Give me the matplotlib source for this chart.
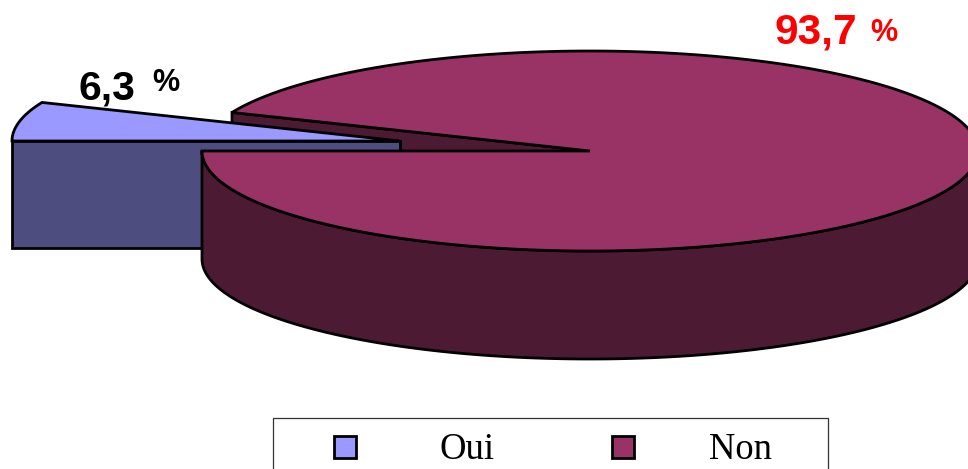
import numpy as np
import matplotlib
matplotlib.use('Agg')
import matplotlib.pyplot as plt
from matplotlib.patches import Polygon, Rectangle

labels = ['Oui', 'Non']
values = [6.3, 93.7]
value_texts = ['6,3', '93,7']

top_colors = ['#9999FF', '#993366']
side_colors = ['#4D4D80', '#4D1A33']

# pie geometry, in pixels
rx, ry = 388, 100
depth = 108
cx, cy = 590, 151     # centre of the big slice
ox, oy = 400, 141     # centre of the pulled out slice
LW = 2.0


def arc(x0, y0, a1, a2, dy=0):
    # a1, a2 in degrees, counted anticlockwise on screen
    t = np.radians(np.linspace(a1, a2, 300))
    return np.column_stack([x0 + rx * np.cos(t), y0 - ry * np.sin(t) + dy])


def add_poly(ax, pts, color):
    ax.add_patch(Polygon(pts, closed=True, facecolor=color, edgecolor='black',
                         linewidth=LW, joinstyle='miter'))


fig = plt.figure(figsize=(9.68, 4.69), dpi=100)
ax = fig.add_axes([0, 0, 1, 1])
ax.set_xlim(0, 968)
ax.set_ylim(469, 0)
ax.axis('off')

oui_angle = values[0] / sum(values) * 360
start = 180 - oui_angle

# cut face of the big slice, behind everything else
edge = arc(cx, cy, start, start)[0]
add_poly(ax, [edge, (cx, cy), (cx, cy + depth), (edge[0], edge[1] + depth)], side_colors[1])

# pulled out slice
oui_arc = arc(ox, oy, start, 180)
add_poly(ax, np.vstack([[(ox, oy)], oui_arc]), top_colors[0])
ax.add_patch(Rectangle((ox - rx, oy), rx, depth - 1, facecolor=side_colors[0],
                       edgecolor='black', linewidth=LW))

# big slice: outer wall then top
wall_top = arc(cx, cy, 180, 360)
wall_bot = arc(cx, cy, 180, 360, dy=depth)
add_poly(ax, np.vstack([wall_top, wall_bot[::-1]]), side_colors[1])
non_arc = arc(cx, cy, 180, 360 + start)
add_poly(ax, np.vstack([[(cx, cy)], non_arc]), top_colors[1])

# value labels
sans = 'Liberation Sans'
ax.text(78, 99, value_texts[0], family=sans, fontweight='bold', fontsize=29.5, color='black')
ax.text(152, 91, '%', family=sans, fontweight='bold', fontsize=22, color='black')
ax.text(774, 43, value_texts[1], family=sans, fontweight='bold', fontsize=30.5, color='#FF0000')
ax.text(870, 41, '%', family=sans, fontweight='bold', fontsize=22, color='#FF0000')

# legend box runs off the bottom of the figure
ax.add_patch(Rectangle((272.5, 418.5), 555, 70, facecolor='white', edgecolor='#333333',
                       linewidth=0.9, clip_on=True))
for x_box, x_text, label, color in zip([334, 612], [467.5, 740], labels, top_colors):
    ax.add_patch(Rectangle((x_box, 436), 22, 22, facecolor=color, edgecolor='black', linewidth=LW))
    ax.text(x_text, 459, label, family='Liberation Serif', fontsize=26.4, color='black',
            ha='center', va='baseline')

fig.savefig('out.png', dpi=100, facecolor='white')
